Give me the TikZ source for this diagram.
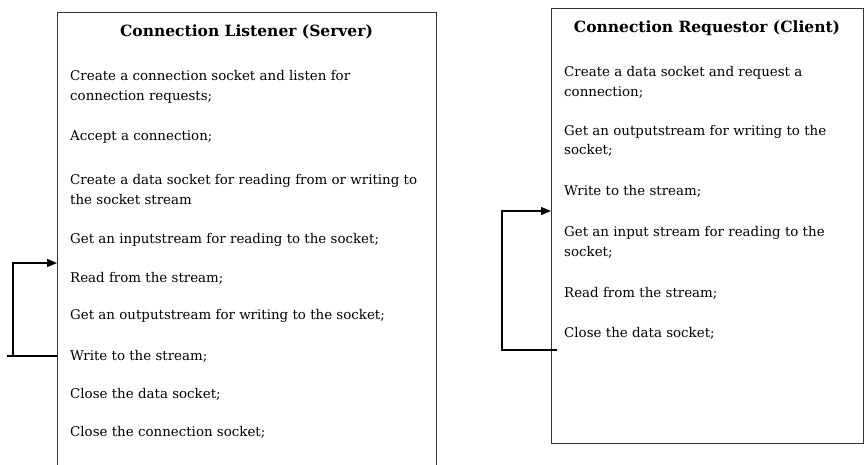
\documentclass[tikz,border=0pt]{standalone}
\usepackage{fontspec}
\setmainfont{DejaVu Serif}
\usetikzlibrary{arrows.meta,positioning}

\begin{document}
\begin{tikzpicture}[
    x=1pt, y=-1pt,
    panel/.style={draw=black!80, line width=1.3pt, anchor=north west, inner sep=0pt},
    heading/.style={font=\bfseries\fontsize{15.5}{18}\selectfont, inner sep=0pt},
    stepline/.style={anchor=west, align=left, inner sep=0pt, font=\fontsize{13.4}{19.5}\selectfont},
    loop/.style={draw=black, line width=1.2pt},
    >={Triangle[length=10pt,width=8pt]}
  ]
  \useasboundingbox (0,0) rectangle (867,464);

  % Server
  \node[panel, minimum width=379pt, minimum height=470pt] (server) at (57,12) {};
  \node[heading] (stitle) at (246.5,32) {Connection Listener (Server)};
  \node[stepline] (s1) at (70,87) {Create a connection socket and listen for\\connection requests;};
  \node[stepline] (s2) at (70,137) {Accept a connection;};
  \node[stepline] (s3) at (70,189.5) {Create a data socket for reading from or writing to\\the socket stream};
  \node[stepline] (s4) at (70,240) {Get an inputstream for reading to the socket;};
  \node[stepline] (s5) at (70,278) {Read from the stream;};
  \node[stepline] (s6) at (70,316) {Get an outputstream for writing to the socket;};
  \node[stepline] (s7) at (70,356) {Write to the stream;};
  \node[stepline] (s8) at (70,394) {Close the data socket;};
  \node[stepline] (s9) at (70,432) {Close the connection socket;};

  % Client
  \node[panel, minimum width=312pt, minimum height=435pt] (client) at (551,8) {};
  \node[heading] (ctitle) at (707,28) {Connection Requestor (Client)};
  \node[stepline] (c1) at (564,82.5) {Create a data socket and request a\\connection;};
  \node[stepline] (c2) at (564,141) {Get an outputstream for writing to the\\socket;};
  \node[stepline] (c3) at (564,191) {Write to the stream;};
  \node[stepline] (c4) at (564,242.5) {Get an input stream for reading to the\\socket;};
  \node[stepline] (c5) at (564,293) {Read from the stream;};
  \node[stepline] (c6) at (564,333) {Close the data socket;};

  % Loops
  \coordinate (sin) at (57,263);
  \coordinate (sback) at (57,356);
  \coordinate (sturn) at (13,356);
  \coordinate (sstub) at (7,356);
  \draw[loop] (sback) -- (sstub);
  \draw[loop,->] (sturn) |- (sin);

  \coordinate (cin) at (551,211);
  \coordinate (cback) at (557,350);
  \coordinate (cturn) at (502,350);
  \draw[loop,->] (cback) -- (cturn) |- (cin);
\end{tikzpicture}
\end{document}
